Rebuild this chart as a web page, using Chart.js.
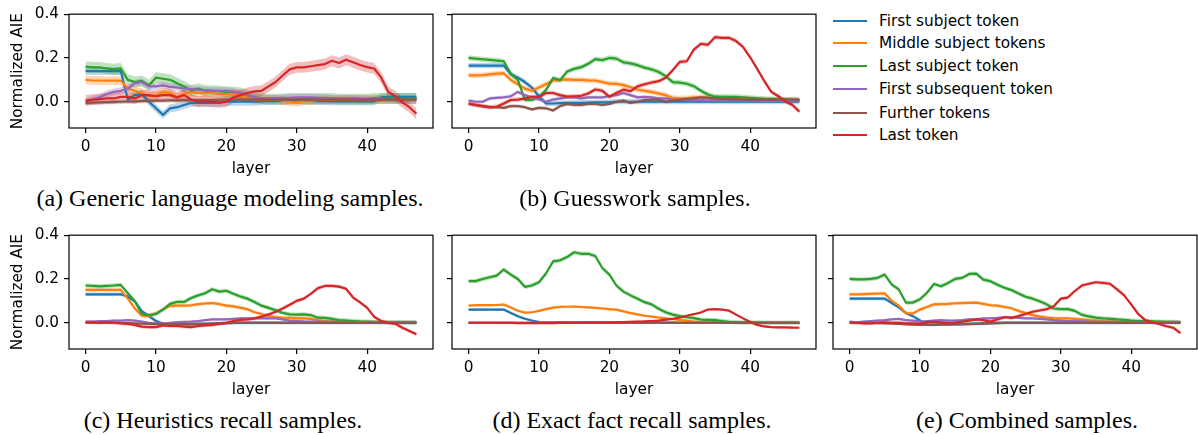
<!DOCTYPE html>
<html><head><meta charset="utf-8">
<script src="https://cdn.jsdelivr.net/npm/chart.js@4.4.0/dist/chart.umd.min.js"></script>
<style>
html,body{margin:0;padding:0;background:#fff;}
#wrap{position:relative;width:1198px;height:435px;overflow:hidden;background:#fff;}
canvas{position:absolute;}
.cap{position:absolute;font-family:"Liberation Serif","Times New Roman",serif;font-size:24px;color:#000;white-space:nowrap;transform:translate(-50%,-50%);line-height:1;}
.leg{position:absolute;left:833px;height:20px;width:300px;font-family:"DejaVu Sans";font-size:15.3px;color:#000;}
.leg span.l{position:absolute;left:0;top:9px;width:34px;height:2.2px;}
.leg span.t{position:absolute;left:46px;top:0;line-height:20px;white-space:nowrap;}
</style>
</head><body>
<div id="wrap">
<canvas id="ca" width="445" height="180" style="left:0;top:0"></canvas>
<canvas id="cb" width="380" height="180" style="left:440px;top:0"></canvas>
<canvas id="cc" width="445" height="180" style="left:0;top:221px"></canvas>
<canvas id="cd" width="380" height="180" style="left:440px;top:221px"></canvas>
<canvas id="ce" width="378" height="180" style="left:820px;top:221px"></canvas>
<div id="legend"></div>
<div class="cap" style="left:230px;top:198px">(a) Generic language modeling samples.</div>
<div class="cap" style="left:635px;top:198px">(b) Guesswork samples.</div>
<div class="cap" style="left:223px;top:420px">(c) Heuristics recall samples.</div>
<div class="cap" style="left:632px;top:420px">(d) Exact fact recall samples.</div>
<div class="cap" style="left:1027px;top:420px">(e) Combined samples.</div>
</div>
<script>
const LAYERS = [0,1,2,3,4,5,6,7,8,9,10,11,12,13,14,15,16,17,18,19,20,21,22,23,24,25,26,27,28,29,30,31,32,33,34,35,36,37,38,39,40,41,42,43,44,45,46,47];
const SERIES_NAMES = ["First subject token","Middle subject tokens","Last subject token","First subsequent token","Further tokens","Last token"];
const COLORS = ["#1f77b4","#ff7f0e","#2ca02c","#9467bd","#8c564b","#d62728"];
const X_TICKS = [0,10,20,30,40];
const Y_TICKS = [0.0,0.2,0.4];

// (a) Generic language modeling samples
const a_first   = [0.14,0.14,0.14,0.14,0.14,0.14,0.01,0.03,0.035,0.0,-0.03,-0.06,-0.03,-0.025,-0.015,-0.005,-0.005,-0.005,-0.005,-0.005,0,0,0,0,0,0.002,0.003,0.003,0.004,0.005,0.005,0.004,0.004,0.003,0.003,0.002,0.002,0.002,0.002,0.002,0.002,0.002,0.02,0.022,0.022,0.022,0.022,0.022];
const a_middle  = [0.1,0.097,0.097,0.096,0.096,0.096,0.06,0.05,0.04,0.025,0.03,0.045,0.04,0.02,0.035,0.045,0.04,0.04,0.04,0.035,0.035,0.04,0.03,0.015,0.01,0.01,0.01,0.01,0.005,0.0,-0.003,0.005,0.005,0.008,0.008,0.01,0.01,0.01,0.01,0.01,0.01,0.01,0.01,0.01,0.01,0.01,0.01,0.01];
const a_last    = [0.16,0.157,0.157,0.152,0.148,0.152,0.1,0.09,0.095,0.075,0.11,0.105,0.1,0.085,0.07,0.052,0.06,0.05,0.05,0.048,0.045,0.045,0.04,0.03,0.02,0.015,0.012,0.012,0.012,0.015,0.015,0.015,0.015,0.015,0.015,0.015,0.012,0.012,0.012,0.012,0.012,0.015,0.015,0.015,0.015,0.015,0.015,0.015];
const a_subseq  = [0.0,0.01,0.02,0.035,0.045,0.05,0.06,0.085,0.09,0.07,0.07,0.075,0.068,0.065,0.06,0.058,0.055,0.052,0.05,0.05,0.05,0.045,0.04,0.03,0.02,0.015,0.015,0.015,0.018,0.018,0.02,0.02,0.02,0.018,0.018,0.015,0.015,0.015,0.015,0.012,0.012,0.012,0.012,0.01,0.01,0.01,0.01,0.01];
const a_further = [-0.005,-0.004,-0.003,-0.002,-0.001,0.0,0.001,0.002,0.003,0.004,0.005,0.005,0.006,0.006,0.007,0.007,0.008,0.008,0.008,0.009,0.009,0.01,0.01,0.01,0.01,0.01,0.01,0.01,0.01,0.01,0.01,0.01,0.01,0.01,0.01,0.01,0.01,0.01,0.01,0.01,0.01,0.01,0.01,0.01,0.01,0.01,0.01,0.01];
const a_lasttok = [0.005,0.01,0.012,0.015,0.015,0.022,0.022,0.015,0.03,0.03,0.025,0.03,0.03,0.02,0.03,0.01,0.0,0.003,0.0,-0.003,0.0,0.02,0.03,0.04,0.047,0.05,0.07,0.09,0.12,0.148,0.157,0.157,0.162,0.167,0.172,0.187,0.177,0.192,0.18,0.168,0.158,0.152,0.11,0.045,0.025,-0.003,-0.025,-0.055];
const a_band    = [0.018,0.02,0.025,0.016,0.01,0.025];

// (b) Guesswork samples
const b_first   = [0.165,0.165,0.165,0.165,0.165,0.165,0.125,0.11,0.09,0.065,0.025,-0.008,-0.008,-0.006,-0.005,-0.005,-0.005,-0.004,-0.003,-0.003,-0.002,0,0,0,0,0,0,0,0,0,0,0,0,0,0,0,0,0,0,0,0,0,0,0,0,0,0,0];
const b_middle  = [0.12,0.12,0.122,0.125,0.128,0.13,0.1,0.08,0.06,0.05,0.065,0.08,0.097,0.1,0.102,0.1,0.1,0.098,0.097,0.09,0.083,0.082,0.076,0.066,0.056,0.05,0.045,0.037,0.03,0.018,0.015,0.017,0.02,0.02,0.02,0.018,0.016,0.015,0.013,0.012,0.012,0.01,0.01,0.01,0.008,0.008,0.007,0.007];
const b_last    = [0.2,0.197,0.194,0.191,0.188,0.185,0.128,0.1,0.008,0.008,0.023,0.053,0.108,0.098,0.138,0.15,0.158,0.173,0.195,0.19,0.2,0.197,0.18,0.175,0.167,0.156,0.148,0.136,0.117,0.09,0.087,0.082,0.071,0.05,0.033,0.023,0.022,0.022,0.022,0.02,0.018,0.015,0.013,0.012,0.011,0.01,0.009,0.008];
const b_subseq  = [0.005,0.0,0.0,0.015,0.018,0.02,0.025,0.045,0.03,0.02,0.01,0.0,0.01,0.015,0.02,0.02,0.015,0.02,0.02,0.02,0.025,0.03,0.04,0.03,0.02,0.022,0.02,0.015,0.015,0.01,0.008,0.007,0.006,0.006,0.005,0.005,0.005,0.005,0.005,0.005,0.005,0.005,0.004,0.004,0.004,0.004,0.004,0.004];
const b_further = [-0.01,-0.015,-0.02,-0.025,-0.025,-0.028,-0.02,-0.02,-0.025,-0.035,-0.028,-0.03,-0.04,-0.02,-0.01,-0.015,-0.015,-0.01,-0.01,-0.015,-0.01,0.0,0.005,-0.005,0.0,0.008,0.01,0.01,0.0,0.005,0.01,0.013,0.015,0.02,0.018,0.015,0.013,0.012,0.012,0.01,0.01,0.01,0.01,0.01,0.01,0.01,0.01,0.01];
const b_lasttok = [-0.008,-0.015,-0.02,-0.025,-0.023,-0.008,0.008,0.01,0.014,0.022,0.022,0.04,0.04,0.03,0.023,0.025,0.027,0.038,0.056,0.05,0.023,0.04,0.055,0.048,0.07,0.08,0.088,0.094,0.11,0.144,0.182,0.185,0.238,0.265,0.26,0.295,0.292,0.292,0.277,0.25,0.203,0.15,0.095,0.045,0.025,0.002,-0.015,-0.045];
const b_band    = [0.012,0.012,0.012,0.008,0.008,0.01];

// (c) Heuristics recall samples
const c_first   = [0.13,0.13,0.13,0.13,0.13,0.13,0.12,0.098,0.053,0.03,0.008,-0.005,-0.005,-0.006,-0.006,-0.006,-0.005,-0.005,-0.004,-0.003,-0.002,-0.001,0,0,0,0,0,0,0,0,0,0,0,0,0,0,0,0,0,0,0,0,0,0,0,0,0,0];
const c_middle  = [0.15,0.15,0.15,0.15,0.15,0.15,0.11,0.065,0.032,0.03,0.042,0.06,0.077,0.078,0.078,0.08,0.085,0.088,0.09,0.085,0.078,0.075,0.068,0.062,0.048,0.04,0.03,0.026,0.023,0.022,0.02,0.02,0.018,0.012,0.008,0.006,0.005,0.004,0.004,0.003,0.003,0.003,0.002,0.002,0.002,0.002,0.002,0.002];
const c_last    = [0.17,0.168,0.166,0.168,0.17,0.173,0.135,0.098,0.04,0.035,0.04,0.06,0.086,0.095,0.095,0.113,0.125,0.135,0.153,0.142,0.146,0.132,0.12,0.11,0.095,0.078,0.068,0.057,0.045,0.038,0.037,0.038,0.035,0.023,0.022,0.018,0.012,0.01,0.008,0.006,0.005,0.004,0.003,0.002,0.002,0.002,0.002,0.002];
const c_subseq  = [0.005,0.005,0.007,0.008,0.01,0.01,0.012,0.01,0.005,0.0,-0.003,-0.003,0.0,0.003,0.004,0.005,0.008,0.012,0.015,0.015,0.015,0.018,0.02,0.02,0.02,0.02,0.02,0.02,0.015,0.01,0.008,0.006,0.005,0.005,0.005,0.004,0.004,0.003,0.003,0.003,0.003,0.003,0.002,0.002,0.002,0.002,0.002,0.002];
const c_further = [0.0,0.0,0.0,0.0,0.0,-0.001,-0.002,-0.003,-0.004,-0.005,-0.006,-0.006,-0.006,-0.006,-0.006,-0.006,-0.005,-0.005,-0.004,-0.003,-0.002,-0.001,0,0,0,0,0,0,0,0,0,0,0,0,0,0,0,0,0,0,0,0,0,0,0,0,0,0];
const c_lasttok = [0.002,0.002,0.0,0.002,0.0,-0.003,-0.005,-0.01,-0.018,-0.02,-0.02,-0.012,-0.015,-0.015,-0.018,-0.02,-0.015,-0.012,-0.01,-0.005,0.0,0.008,0.013,0.015,0.02,0.028,0.038,0.05,0.065,0.082,0.1,0.11,0.132,0.158,0.168,0.168,0.165,0.155,0.115,0.093,0.068,0.027,0.008,0.0,-0.005,-0.023,-0.038,-0.053];
const c_band    = [0.008,0.008,0.01,0.005,0.004,0.008];

// (d) Exact fact recall samples
const d_first   = [0.06,0.06,0.06,0.06,0.06,0.06,0.045,0.03,0.018,0.01,0.003,0,0,0,0,0,0,0,0,0,0,0,0,0,0,0,0,0,0,0,0,0,0,0,0,0,0,0,0,0,0,0,0,0,0,0,0,0];
const d_middle  = [0.078,0.08,0.08,0.08,0.081,0.083,0.07,0.055,0.046,0.048,0.054,0.062,0.069,0.072,0.073,0.074,0.072,0.07,0.068,0.065,0.062,0.06,0.052,0.044,0.038,0.032,0.028,0.024,0.02,0.017,0.013,0.009,0.005,0.002,0.002,0.001,0.001,0.001,0.001,0.001,0.001,0.001,0.001,0.001,0.001,0.001,0.001,0.001];
const d_last    = [0.19,0.19,0.2,0.208,0.215,0.243,0.22,0.2,0.164,0.17,0.185,0.225,0.28,0.285,0.3,0.322,0.315,0.315,0.305,0.25,0.22,0.17,0.142,0.125,0.11,0.094,0.084,0.064,0.048,0.037,0.03,0.025,0.021,0.014,0.013,0.012,0.008,0.004,0.002,0.001,0.001,0.001,0.0,0.0,0.0,0.0,0.0,0.0];
const d_subseq  = [0,0,0,0,0,0,0,0,0,0,0.001,0.002,0.003,0.003,0.003,0.003,0.003,0.003,0.002,0.002,0.002,0.001,0.001,0.001,0.001,0.001,0.001,0.001,0.001,0.001,0,0,0,0,0,0,0,0,0,0,0,0,0,0,0,0,0,0];
const d_further = [0,0,0,0,0,0,0,0,0,0,0,0,0,0,0,0,0,0,0,0,0,0,0,0,0,0,0,0,0,0,0,0,0,0,0,0,0,0,0,0,0,0,0,0,0,0,0,0];
const d_lasttok = [0.0,0.0,0.0,0.0,0.0,-0.001,-0.001,-0.002,-0.002,-0.002,-0.002,-0.002,-0.002,-0.001,-0.001,0.0,0.0,0.001,0.001,0.001,0.002,0.002,0.003,0.004,0.005,0.006,0.008,0.01,0.014,0.018,0.024,0.032,0.039,0.047,0.06,0.062,0.06,0.055,0.037,0.02,0.003,-0.01,-0.017,-0.02,-0.021,-0.021,-0.022,-0.023];
const d_band    = [0.006,0.006,0.01,0.003,0.003,0.005];

// (e) Combined samples
const e_first   = [0.11,0.11,0.11,0.11,0.11,0.11,0.09,0.07,0.045,0.03,0.01,-0.008,-0.008,-0.007,-0.007,-0.006,-0.006,-0.005,-0.004,-0.003,-0.002,-0.001,0,0,0,0,0,0,0,0,0,0,0,0,0,0,0,0,0,0,0,0,0,0,0,0,0,0];
const e_middle  = [0.13,0.13,0.131,0.132,0.133,0.134,0.1,0.078,0.044,0.042,0.06,0.072,0.084,0.085,0.086,0.089,0.09,0.091,0.092,0.086,0.08,0.078,0.072,0.066,0.054,0.044,0.035,0.028,0.024,0.021,0.02,0.02,0.018,0.015,0.012,0.01,0.007,0.006,0.005,0.004,0.004,0.003,0.003,0.003,0.003,0.003,0.003,0.003];
const e_last    = [0.2,0.198,0.198,0.2,0.205,0.22,0.174,0.152,0.092,0.092,0.107,0.137,0.177,0.167,0.182,0.2,0.205,0.223,0.224,0.197,0.19,0.174,0.16,0.149,0.134,0.119,0.11,0.098,0.084,0.065,0.062,0.062,0.054,0.036,0.029,0.023,0.02,0.018,0.015,0.013,0.01,0.008,0.007,0.006,0.005,0.004,0.004,0.003];
const e_subseq  = [0.005,0.002,0.005,0.008,0.01,0.012,0.015,0.018,0.012,0.01,0.005,0.008,0.01,0.012,0.01,0.01,0.012,0.015,0.015,0.02,0.02,0.022,0.025,0.025,0.022,0.02,0.02,0.018,0.015,0.012,0.01,0.008,0.007,0.006,0.005,0.005,0.004,0.004,0.004,0.003,0.003,0.003,0.003,0.003,0.003,0.003,0.003,0.003];
const e_further = [0.0,0.0,-0.001,-0.001,-0.002,-0.003,-0.004,-0.005,-0.008,-0.009,-0.01,-0.01,-0.01,-0.009,-0.009,-0.008,-0.007,-0.006,-0.005,-0.004,-0.003,-0.002,-0.001,0,0,0,0,0,0,0,0,0,0,0,0,0,0,0,0,0,0,0,0,0,0,0,0,0];
const e_lasttok = [0.0,0.0,-0.003,-0.003,0.0,0.002,0.0,0.0,-0.003,-0.003,-0.005,0.003,0.005,0.002,-0.002,0.0,0.005,0.01,0.015,0.012,0.005,0.015,0.025,0.022,0.03,0.04,0.05,0.056,0.062,0.075,0.11,0.115,0.145,0.17,0.178,0.185,0.182,0.178,0.152,0.125,0.084,0.04,0.012,0.002,-0.006,-0.016,-0.023,-0.047];
const e_band    = [0.008,0.008,0.01,0.005,0.004,0.008];

const BAND_ALPHA = 0.3;
const FONT = "DejaVu Sans";
const FONT_SIZE = 15.3;

Chart.defaults.font.family = FONT;
Chart.defaults.font.size = FONT_SIZE;
Chart.defaults.color = '#000';

function rgba(hex, a) {
  const n = parseInt(hex.slice(1), 16);
  return `rgba(${(n>>16)&255},${(n>>8)&255},${n&255},${a})`;
}

const framePlugin = {
  id: 'frame',
  afterDraw(chart) {
    const {ctx, chartArea: c} = chart;
    ctx.save();
    ctx.strokeStyle = '#000';
    ctx.lineWidth = 1.2;
    ctx.strokeRect(c.left, c.top, c.right - c.left, c.bottom - c.top);
    ctx.restore();
  }
};

function pts(vals, off) { return vals.map((v, k) => ({x: LAYERS[k], y: v + off})); }

function build(id, series, bands, showY, yWidth, padRight) {
  const ds = [];
  series.forEach((vals, i) => {
    const hw = bands[i];
    ds.push({data: pts(vals, hw), borderWidth: 0, borderColor: 'rgba(0,0,0,0)', pointRadius: 0, fill: '+1', backgroundColor: rgba(COLORS[i], BAND_ALPHA), order: 20 - i});
    ds.push({data: pts(vals, -hw), borderWidth: 0, borderColor: 'rgba(0,0,0,0)', pointRadius: 0, fill: false, order: 20 - i});
    ds.push({label: SERIES_NAMES[i], data: pts(vals, 0), borderColor: COLORS[i], borderWidth: 2.2, pointRadius: 0, fill: false, tension: 0, order: 6 - i, borderJoinStyle: 'round', borderCapStyle: 'butt'});
  });
  new Chart(document.getElementById(id), {
    type: 'line',
    data: {datasets: ds},
    options: {
      responsive: false, animation: false, devicePixelRatio: 1, events: [],
      layout: {padding: {left: 0, top: 13, right: padRight, bottom: 0}},
      plugins: {legend: {display: false}, tooltip: {enabled: false}},
      scales: {
        x: {
          type: 'linear', min: -2.35, max: 49.35,
          afterBuildTicks: s => { s.ticks = X_TICKS.map(v => ({value: v})); },
          afterFit: s => { s.height = 52; },
          ticks: {autoSkip: false, maxRotation: 0, padding: 5, callback: v => String(v), color: '#000'},
          grid: {display: true, drawOnChartArea: false, drawTicks: true, tickLength: 5, color: '#000', lineWidth: 1.2},
          border: {display: false},
          title: {display: true, text: 'layer', color: '#000', padding: {top: 0, bottom: 2}}
        },
        y: {
          type: 'linear', min: -0.12, max: 0.4,
          afterBuildTicks: s => { s.ticks = Y_TICKS.map(v => ({value: v})); },
          afterFit: s => { s.width = yWidth; },
          ticks: {autoSkip: false, padding: 5, callback: v => showY ? v.toFixed(1) : '', color: '#000'},
          grid: {display: true, drawOnChartArea: false, drawTicks: true, tickLength: 5, color: '#000', lineWidth: 1.2},
          border: {display: false},
          title: {display: showY, text: 'Normalized AIE', color: '#000', padding: {top: 9, bottom: 0}}
        }
      }
    },
    plugins: [framePlugin]
  });
}

build('ca', [a_first, a_middle, a_last, a_subseq, a_further, a_lasttok], a_band, true, 69, 12);
build('cb', [b_first, b_middle, b_last, b_subseq, b_further, b_lasttok], b_band, false, 12, 4);
build('cc', [c_first, c_middle, c_last, c_subseq, c_further, c_lasttok], c_band, true, 69, 12);
build('cd', [d_first, d_middle, d_last, d_subseq, d_further, d_lasttok], d_band, false, 12, 4);
build('ce', [e_first, e_middle, e_last, e_subseq, e_further, e_lasttok], e_band, false, 13, 1);

// legend
const LEG_Y = [20.7, 43.3, 66, 89.3, 112.7, 135.3];
const legend = document.getElementById('legend');
SERIES_NAMES.forEach((name, i) => {
  const d = document.createElement('div');
  d.className = 'leg';
  d.style.top = (LEG_Y[i] - 10) + 'px';
  d.innerHTML = `<span class="l" style="background:${COLORS[i]}"></span><span class="t">${name}</span>`;
  legend.appendChild(d);
});
</script>
</body></html>
